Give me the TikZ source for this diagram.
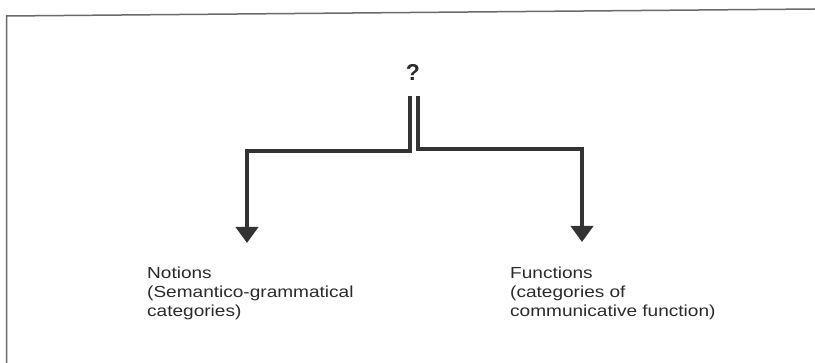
\documentclass[tikz,border=0pt]{standalone}
\usepackage{fontspec}
\setmainfont[FakeStretch=1.19]{Liberation Sans}
\newfontfamily\qfont{Liberation Sans}
\usetikzlibrary{arrows.meta}
\definecolor{ink}{HTML}{333333}
\definecolor{txt}{HTML}{2A2A2A}
\definecolor{framec}{HTML}{6A6A6A}
\tikzset{
  conn/.style={draw=ink, line width=4pt, line join=miter},
  arrowconn/.style={conn, -{Triangle[width=22pt,length=16pt]}},
  lbl/.style={anchor=north west, inner sep=0pt, align=left, text=txt,
    font=\fontsize{16}{19.2}\selectfont},
  framel/.style={draw=framec, line width=1.5pt}
}
\begin{document}
\begin{tikzpicture}[x=1pt,y=-1pt]
\useasboundingbox (0,0) rectangle (815,363);
% frame
\draw[framel] (6.5,363) -- (6.5,16) -- (815,9);
% question mark
\node[inner sep=0pt, anchor=base, text=txt, font=\qfont\bfseries\fontsize{23}{23}\selectfont] (q) at (413,81) {?};
% branch coordinates
\coordinate (lt) at (409.5,96);
\coordinate (lc) at (409.5,151);
\coordinate (lb) at (247,151);
\coordinate (la) at (247,243);
\coordinate (rt) at (418,96);
\coordinate (rc) at (418,149);
\coordinate (rb) at (582,149);
\coordinate (ra) at (582,242);
% labels
\node[lbl] (n) at (147,266.5) {Notions\\(Semantico-grammatical\\categories)};
\node[lbl] (f) at (510,266.5) {Functions\\(categories of\\communicative function)};
% connectors
\draw[arrowconn] (lt) -- (lc) -- (lb) -- (la);
\draw[arrowconn] (rt) -- (rc) -- (rb) -- (ra);
\end{tikzpicture}
\end{document}
